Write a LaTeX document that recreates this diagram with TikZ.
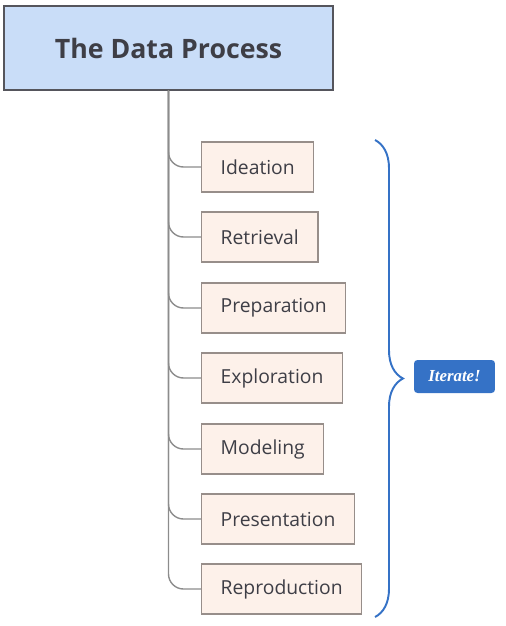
\documentclass[tikz,border=0pt]{standalone}
\usepackage{fontspec}
\setmainfont{Open Sans}
\newfontfamily\iterfont{Liberation Serif}
\usepackage{xcolor}
\usetikzlibrary{decorations.pathreplacing,positioning}

\definecolor{titlefill}{HTML}{C9DDF8}
\definecolor{titleline}{HTML}{55555C}
\definecolor{stepfill}{HTML}{FDF1EA}
\definecolor{stepline}{HTML}{978E8A}
\definecolor{textgray}{HTML}{3E3E46}
\definecolor{linkgray}{HTML}{8C8C8C}
\definecolor{iterblue}{HTML}{3572C6}

\tikzset{
  titlebox/.style={draw=titleline, line width=0.8pt, fill=titlefill,
    minimum width=6.58cm, minimum height=1.68cm,
    font=\fontsize{15.2}{18}\selectfont\bfseries, text=textgray},
  stepbox/.style={draw=stepline, line width=0.8pt, fill=stepfill, anchor=west,
    minimum height=1cm, inner xsep=0.38cm,
    font=\fontsize{11}{13}\selectfont, text=textgray},
  link/.style={draw=linkgray, line width=0.8pt, rounded corners=0.3cm},
  iterbox/.style={fill=iterblue, rounded corners=2pt, text=white,
    minimum width=1.62cm, minimum height=0.66cm,
    font=\iterfont\fontsize{9.6}{11}\selectfont\bfseries\itshape}
}

\begin{document}
\begin{tikzpicture}[x=0.02cm, y=-0.02cm]
  \useasboundingbox (0,0) rectangle (505,626);
  \node[titlebox] (title) at (168.5,48) {The Data Process};

  \node[stepbox] (ideation)     at (201,167) {Ideation};
  \node[stepbox] (retrieval)    at (201,237) {Retrieval};
  \node[stepbox] (preparation)  at (201,308) {Preparation};
  \node[stepbox] (exploration)  at (201,378) {Exploration};
  \node[stepbox] (modeling)     at (201,449) {Modeling};
  \node[stepbox] (presentation) at (201,519) {Presentation};
  \node[stepbox] (reproduction) at (201,589) {Reproduction};

  % tree links from the title
  \foreach \s in {ideation,retrieval,preparation,exploration,modeling,presentation,reproduction}
    \draw[link] (title.south) |- (\s.west);

  % the iteration brace
  \coordinate (bracetop) at (375,140);
  \coordinate (bracebot) at (375,617);
  \draw[iterblue, line width=1.1pt, decorate,
        decoration={brace, amplitude=0.56cm}] (bracetop) -- (bracebot);
  \node[iterbox] (iterate) at (454.5,376.5) {Iterate!};
\end{tikzpicture}
\end{document}
